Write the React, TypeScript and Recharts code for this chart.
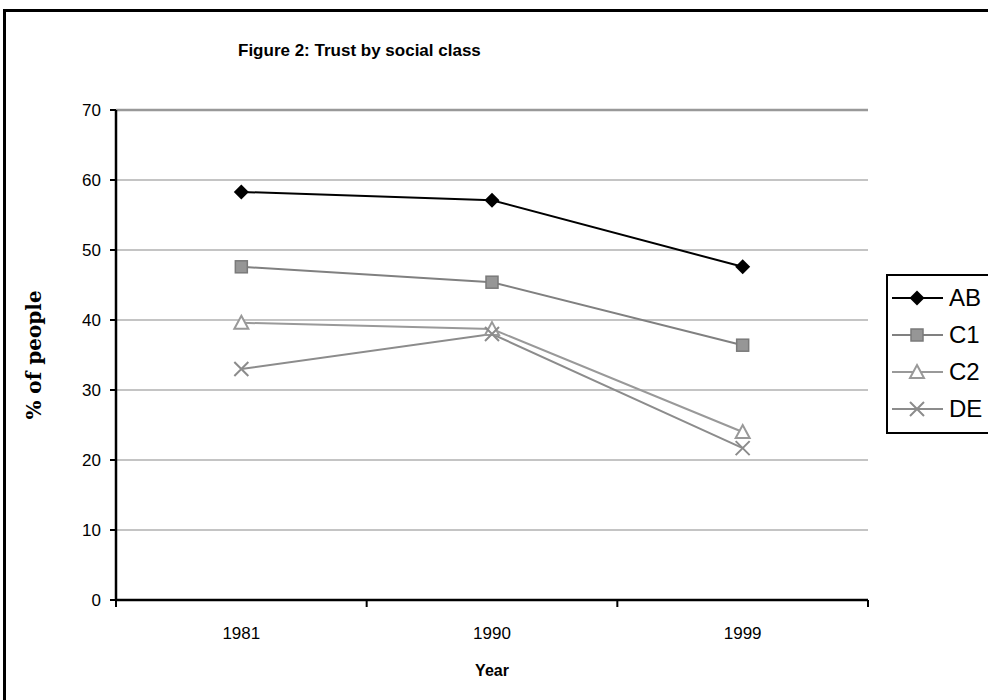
import { CartesianGrid, Legend, Line, LineChart, ReferenceLine, XAxis, YAxis } from "recharts";

const years = ["1981", "1990", "1999"];
const abValues = [58.3, 57.1, 47.6];
const c1Values = [47.6, 45.4, 36.4];
const c2Values = [39.6, 38.7, 24.0];
const deValues = [33.0, 38.0, 21.7];
const yTicks = [0, 10, 20, 30, 40, 50, 60, 70];
const Y_MAX = 70;

const FONT = "'Liberation Sans', Arial, sans-serif";
const X_TICK_LEN = 7;
const X_LABEL_GAP = 27;

type MarkerShape = "diamond" | "square" | "triangle" | "cross";

interface ClassSeries {
  key: string;
  label: string;
  color: string;
  shape: MarkerShape;
}

const series: ClassSeries[] = [
  { key: "AB", label: "AB", color: "#000000", shape: "diamond" },
  { key: "C1", label: "C1", color: "#808080", shape: "square" },
  { key: "C2", label: "C2", color: "#999999", shape: "triangle" },
  { key: "DE", label: "DE", color: "#8c8c8c", shape: "cross" },
];

const data = years.map((year, i) => ({
  year,
  AB: abValues[i],
  C1: c1Values[i],
  C2: c2Values[i],
  DE: deValues[i],
}));

function Marker({ shape, cx, cy, color }: { shape: MarkerShape; cx: number; cy: number; color: string }) {
  switch (shape) {
    case "diamond":
      return <path d={`M${cx} ${cy - 7.5}L${cx + 7.5} ${cy}L${cx} ${cy + 7.5}L${cx - 7.5} ${cy}Z`} fill="#000" />;
    case "square":
      return <rect x={cx - 6} y={cy - 6} width={12} height={12} fill="#969696" stroke="#7a7a7a" strokeWidth={1.5} />;
    case "triangle":
      return (
        <path d={`M${cx} ${cy - 7}L${cx + 7} ${cy + 6}L${cx - 7} ${cy + 6}Z`} fill="#fff" stroke={color} strokeWidth={2} />
      );
    default:
      return (
        <path
          d={`M${cx - 7} ${cy - 7}L${cx + 7} ${cy + 7}M${cx + 7} ${cy - 7}L${cx - 7} ${cy + 7}`}
          stroke={color}
          strokeWidth={2}
        />
      );
  }
}

// year label centred in its band, with tick marks on the band edges
function YearTick(props: {
  x?: number;
  y?: number;
  width?: number;
  index?: number;
  visibleTicksCount?: number;
  payload?: { value: string };
}) {
  const { x = 0, y = 0, width = 0, index = 0, visibleTicksCount = 1, payload } = props;
  const band = width / visibleTicksCount;
  const axisY = y - X_LABEL_GAP;
  const left = x - band / 2;
  const right = x + band / 2;
  return (
    <g>
      <line x1={left} x2={left} y1={axisY} y2={axisY + X_TICK_LEN} stroke="#000" strokeWidth={2} />
      {index === visibleTicksCount - 1 && (
        <line x1={right} x2={right} y1={axisY} y2={axisY + X_TICK_LEN} stroke="#000" strokeWidth={2} />
      )}
      <text x={x} y={y} dy="0.71em" textAnchor="middle" fontSize={17} fontFamily={FONT} fill="#000">
        {payload?.value}
      </text>
    </g>
  );
}

function LegendBox() {
  return (
    <div
      style={{
        width: 130,
        height: 160,
        border: "2px solid #000",
        boxSizing: "border-box",
        background: "#fff",
        paddingTop: 3,
      }}
    >
      {series.map((s) => (
        <div key={s.key} style={{ display: "flex", alignItems: "center", height: 37 }}>
          <svg width={55} height={20} style={{ display: "block" }}>
            <line x1={4} x2={55} y1={10} y2={10} stroke={s.color} strokeWidth={2} />
            <Marker shape={s.shape} cx={29} cy={10} color={s.color} />
          </svg>
          <span style={{ marginLeft: 6, fontSize: 24, lineHeight: "24px", fontFamily: FONT, color: "#000" }}>
            {s.label}
          </span>
        </div>
      ))}
    </div>
  );
}

function YAxisTitle({ viewBox }: { viewBox?: { x: number; y: number; width: number; height: number } }) {
  if (!viewBox) return null;
  const x = viewBox.x + 18;
  const y = viewBox.y + viewBox.height / 2;
  return (
    <text
      x={x}
      y={y}
      transform={`rotate(-90, ${x}, ${y})`}
      textAnchor="middle"
      dominantBaseline="central"
      fontFamily="'DejaVu Serif', serif"
      fontWeight="bold"
      fontSize={20}
      fill="#000"
    >
      % of people
    </text>
  );
}

export default function App() {
  const tickStyle = { fontSize: 17, fill: "#000", fontFamily: FONT };
  return (
    <div
      style={{
        position: "absolute",
        left: 0,
        top: 0,
        width: 988,
        height: 700,
        overflow: "hidden",
        background: "#fff",
        fontFamily: FONT,
      }}
    >
      <div
        style={{
          position: "absolute",
          left: 3,
          top: 9,
          width: 1200,
          height: 1000,
          border: "3px solid #000",
          boxSizing: "border-box",
        }}
      />
      <div
        style={{
          position: "absolute",
          left: 238,
          top: 41,
          fontSize: 17,
          fontWeight: "bold",
          whiteSpace: "nowrap",
          color: "#000",
        }}
      >
        Figure 2: Trust by social class
      </div>
      <div style={{ position: "absolute", left: 0, top: 0 }}>
        <LineChart width={988} height={700} data={data} margin={{ top: 110, right: 120, bottom: 20, left: 16 }}>
          <CartesianGrid xAxisId="cat" yAxisId="left" vertical={false} stroke="#c4c4c4" strokeWidth={2} />
          <XAxis
            xAxisId="cat"
            dataKey="year"
            scale="band"
            height={80}
            axisLine={{ stroke: "#000", strokeWidth: 2.5 }}
            tickLine={false}
            tickSize={0}
            tickMargin={X_LABEL_GAP}
            tick={<YearTick />}
            interval={0}
            label={{
              value: "Year",
              position: "insideBottom",
              offset: 4,
              fontSize: 16,
              fontWeight: "bold",
              fill: "#000",
              fontFamily: FONT,
            }}
          />
          <YAxis
            yAxisId="left"
            domain={[0, Y_MAX]}
            ticks={yTicks}
            width={100}
            tickSize={6}
            tickMargin={9}
            tick={tickStyle}
            tickLine={{ stroke: "#000", strokeWidth: 2 }}
            axisLine={{ stroke: "#000", strokeWidth: 2.5 }}
            label={<YAxisTitle />}
          />
          <YAxis
            yAxisId="right"
            orientation="right"
            domain={[0, Y_MAX]}
            width={0}
            tick={false}
            tickLine={false}
            axisLine={{ stroke: "#999999", strokeWidth: 2.5 }}
          />
          <ReferenceLine xAxisId="cat" yAxisId="left" y={Y_MAX} stroke="#999999" strokeWidth={2.5} />
          {series.map((s) => (
            <Line
              key={s.key}
              xAxisId="cat"
              yAxisId="left"
              type="linear"
              dataKey={s.key}
              name={s.label}
              stroke={s.color}
              strokeWidth={2}
              isAnimationActive={false}
              activeDot={false}
              dot={(props: { cx?: number; cy?: number; index?: number }) => (
                <g key={`${s.key}-${props.index}`}>
                  <Marker shape={s.shape} cx={props.cx ?? 0} cy={props.cy ?? 0} color={s.color} />
                </g>
              )}
            />
          ))}
          <Legend
            content={<LegendBox />}
            layout="vertical"
            align="center"
            verticalAlign="middle"
            wrapperStyle={{ left: 886, top: 274, width: 130 }}
          />
        </LineChart>
      </div>
    </div>
  );
}
